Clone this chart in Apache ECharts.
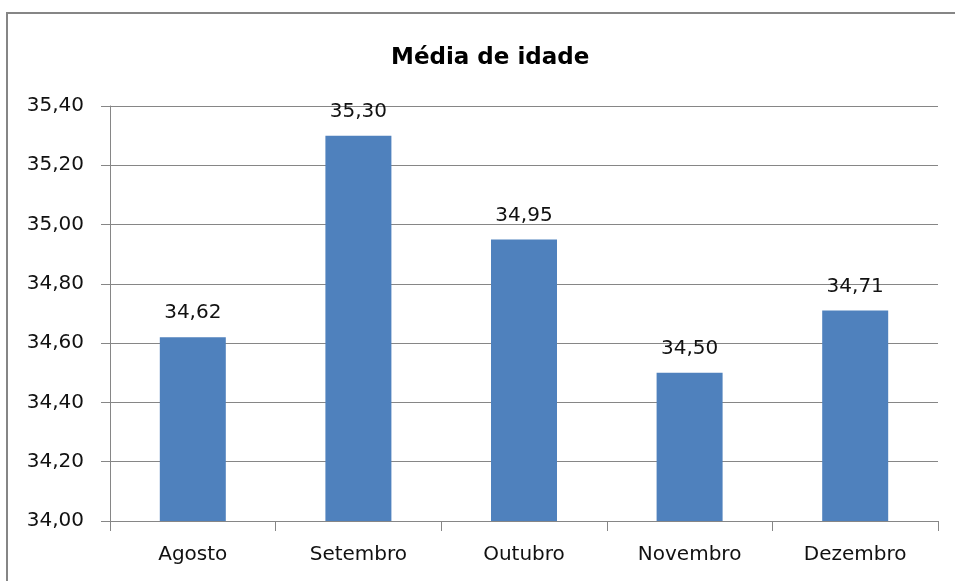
<!DOCTYPE html>
<html>
<head>
<meta charset="utf-8">
<script src="https://cdn.jsdelivr.net/npm/echarts@6/dist/echarts.min.js"></script>
<style>
  html, body { margin: 0; padding: 0; background: #fff; }
  #chart { width: 955px; height: 581px; }
</style>
</head>
<body>
<div id="chart"></div>
<script>
// dados
var meses = ['Agosto', 'Setembro', 'Outubro', 'Novembro', 'Dezembro'];
var medias = [34.62, 35.30, 34.95, 34.50, 34.71];
var yMin = 34.0, yMax = 35.4, yStep = 0.2;

function virgula(v) {
  return Number(v).toFixed(2).replace('.', ',');
}

var chart = echarts.init(document.getElementById('chart'));
var cinza = '#868686';
var fonte = 'DejaVu Sans';

var option = {
  animation: false,
  title: {
    text: 'Média de idade',
    left: 386,
    top: 42,
    textStyle: { fontFamily: fonte, fontSize: 23, fontWeight: 'bold', color: '#000' }
  },
  graphic: [{
    type: 'rect',
    shape: { x: 7, y: 13, width: 1000, height: 700 },
    style: { fill: 'none', stroke: cinza, lineWidth: 2 },
    silent: true
  }],
  grid: { left: 110, right: 17, top: 106, bottom: 60 },
  xAxis: {
    type: 'category',
    data: meses,
    axisLine: { lineStyle: { color: cinza, width: 1 } },
    axisTick: { show: true, length: 10, lineStyle: { color: cinza } },
    axisLabel: { fontFamily: fonte, fontSize: 20, color: '#111', margin: 24 }
  },
  yAxis: {
    type: 'value',
    min: yMin,
    max: yMax,
    interval: yStep,
    axisLine: { show: true, lineStyle: { color: cinza, width: 1 } },
    axisTick: { show: true, length: 9, lineStyle: { color: cinza } },
    axisLabel: {
      fontFamily: fonte, fontSize: 20, color: '#111', margin: 26,
      formatter: function (v) { return virgula(v); }
    },
    splitLine: { show: true, lineStyle: { color: cinza, width: 1 } }
  },
  series: [{
    type: 'bar',
    data: medias,
    barWidth: 66,
    itemStyle: { color: '#4F81BD' },
    label: {
      show: true,
      position: 'top',
      distance: 14,
      fontFamily: fonte,
      fontSize: 20,
      color: '#111',
      formatter: function (p) { return virgula(p.value); }
    }
  }]
};
chart.setOption(option);
</script>
</body>
</html>
